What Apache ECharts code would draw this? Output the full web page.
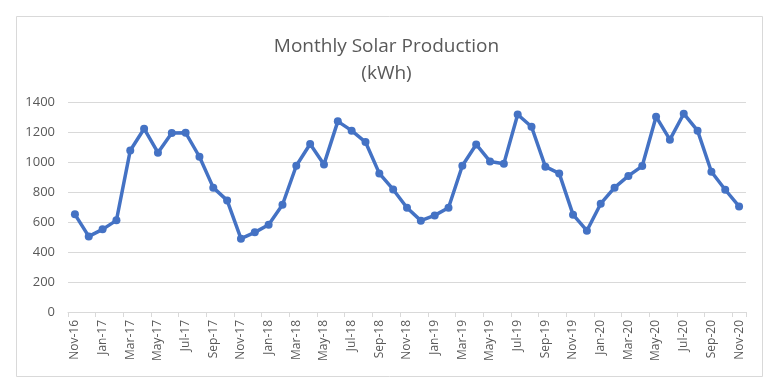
<!DOCTYPE html>
<html><head><meta charset="utf-8">
<script src="https://cdn.jsdelivr.net/npm/echarts@6/dist/echarts.min.js"></script>
<style>html,body{margin:0;padding:0;background:#fff}#c{width:773px;height:390px}</style>
</head><body><div id="c"></div>
<script>
const categories = ["Nov-16","Dec-16","Jan-17","Feb-17","Mar-17","Apr-17","May-17","Jun-17","Jul-17","Aug-17","Sep-17","Oct-17",
"Nov-17","Dec-17","Jan-18","Feb-18","Mar-18","Apr-18","May-18","Jun-18","Jul-18","Aug-18","Sep-18","Oct-18",
"Nov-18","Dec-18","Jan-19","Feb-19","Mar-19","Apr-19","May-19","Jun-19","Jul-19","Aug-19","Sep-19","Oct-19",
"Nov-19","Dec-19","Jan-20","Feb-20","Mar-20","Apr-20","May-20","Jun-20","Jul-20","Aug-20","Sep-20","Oct-20","Nov-20"];
const production = [651,504,551,611,1077,1222,1062,1193,1195,1035,829,744,
489,531,582,715,975,1120,984,1271,1209,1133,924,817,
695,609,644,695,975,1117,1004,989,1317,1235,969,924,
649,542,722,829,907,973,1302,1149,1322,1209,935,815,704];
const yTicks = [0,200,400,600,800,1000,1200,1400];

const chart = echarts.init(document.getElementById('c'), null, {renderer:'canvas'});
chart.setOption({
  animation:false,
  backgroundColor:'#fff',
  graphic:[{type:'rect',shape:{x:16.5,y:16.5,width:746,height:360},style:{fill:'none',stroke:'#d9d9d9',lineWidth:1},silent:true}],
  title:{text:'Monthly Solar Production\n(kWh)',left:'center',top:28,
    textStyle:{fontFamily:'Open Sans',fontSize:19,fontWeight:'normal',color:'#595959',lineHeight:27}},
  grid:{left:68,right:27,top:102,bottom:78,containLabel:false},
  xAxis:{type:'category',data:categories,boundaryGap:true,
    axisLine:{lineStyle:{color:'#d9d9d9',width:1}},
    axisTick:{show:true,interval:1,length:5,lineStyle:{color:'#d9d9d9'}},
    axisLabel:{interval:1,rotate:90,margin:8,fontFamily:'Open Sans',fontSize:12,color:'#595959'}},
  yAxis:{type:'value',min:yTicks[0],max:yTicks[yTicks.length-1],interval:200,
    axisLine:{show:false},axisTick:{show:false},
    splitLine:{lineStyle:{color:'#d9d9d9',width:1}},
    axisLabel:{margin:13,fontFamily:'Open Sans',fontSize:13,color:'#595959',formatter:v=>String(v)}},
  series:[{type:'line',data:production,symbol:'circle',symbolSize:8,
    lineStyle:{color:'#4472C4',width:3.5},itemStyle:{color:'#4472C4'}}]
});
</script></body></html>
